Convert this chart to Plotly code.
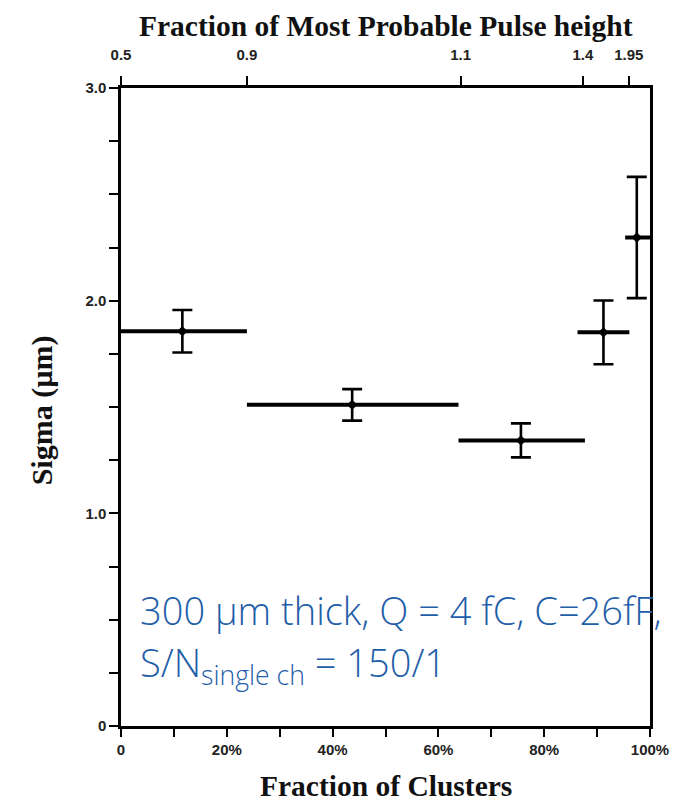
import plotly.graph_objects as go

# ---- data ----
cluster_fraction = [11.6, 43.7, 75.6, 91.2, 97.5]          # % of clusters (marker position)
bin_low = [0.0, 23.8, 63.8, 86.3, 95.3]                     # horizontal bar start (%)
bin_high = [23.8, 63.8, 87.7, 96.1, 100.0]                  # horizontal bar end (%)
sigma_um = [1.856, 1.510, 1.343, 1.851, 2.297]              # Sigma (µm)
sigma_err = [0.10, 0.074, 0.08, 0.15, 0.285]                # ± error (µm)

bottom_tickvals = [0, 20, 40, 60, 80, 100]
bottom_ticktext = ["0", "20%", "40%", "60%", "80%", "100%"]
top_tickvals = [0, 23.8, 64.2, 87.3, 96.0]
top_ticktext = ["0.5", "0.9", "1.1", "1.4", "1.95"]
y_tickvals = [0, 1.0, 2.0, 3.0]
y_ticktext = ["0", "1.0", "2.0", "3.0"]

err_plus_x = [h - c for h, c in zip(bin_high, cluster_fraction)]
err_minus_x = [c - l for c, l in zip(cluster_fraction, bin_low)]

serif = "Liberation Serif"
sans = "Liberation Sans"
title_font = dict(family=serif, size=29.5, color="#111", weight="bold")
tick_font = dict(family=sans, size=15, color="#222", weight="bold")
blue_font = dict(family="Open Sans", size=38, color="#1f5ea8", weight=300)

fig = go.Figure()
fig.add_trace(go.Scatter(
    x=cluster_fraction, y=sigma_um, mode="markers",
    marker=dict(symbol="diamond", size=8, color="black"),
    error_x=dict(type="data", symmetric=False, array=err_plus_x, arrayminus=err_minus_x,
                 width=0, thickness=4, color="black"),
    error_y=dict(type="data", array=sigma_err, width=10, thickness=2.6, color="black"),
    showlegend=False, cliponaxis=False,
))
# invisible trace to activate the top axis
fig.add_trace(go.Scatter(x=[0, 100], y=[None, None], xaxis="x2", yaxis="y",
                         mode="markers", showlegend=False, hoverinfo="skip"))

# page body has an 8px default margin, so the figure is 8px smaller than the window
fig.update_layout(
    width=681, height=796,
    margin=dict(l=113, r=39, t=80, b=78),
    paper_bgcolor="white", plot_bgcolor="white",
    xaxis=dict(
        range=[0, 100], tickvals=bottom_tickvals, ticktext=bottom_ticktext,
        ticks="outside", ticklen=8, tickwidth=2, tickcolor="black",
        minor=dict(dtick=10, tick0=0, ticks="outside", ticklen=8, tickwidth=2, tickcolor="black"),
        showline=True, linecolor="black", linewidth=2.5, mirror=False,
        showgrid=False, zeroline=False, automargin=False,
        tickfont=tick_font,
    ),
    xaxis2=dict(
        range=[0, 100], overlaying="x", side="top", anchor="y",
        tickvals=top_tickvals, ticktext=top_ticktext,
        ticks="outside", ticklen=9, tickwidth=2, tickcolor="black",
        ticklabelstandoff=10,
        showline=True, linecolor="black", linewidth=2.5,
        showgrid=False, zeroline=False, automargin=False,
        tickfont=tick_font,
    ),
    yaxis=dict(
        range=[0, 3.0], tickvals=y_tickvals, ticktext=y_ticktext,
        ticks="outside", ticklen=9, tickwidth=2, tickcolor="black",
        minor=dict(dtick=0.25, tick0=0, ticks="outside", ticklen=9, tickwidth=2, tickcolor="black"),
        showline=True, linecolor="black", linewidth=2.5, mirror=True,
        showgrid=False, zeroline=False, automargin=False,
        tickfont=tick_font,
    ),
    annotations=[
        dict(x=0.5, y=1.0975, xref="paper", yref="paper", xanchor="center", yanchor="middle",
             text="Fraction of Most Probable Pulse height", showarrow=False, font=title_font),
        dict(x=0.5, y=-0.094, xref="paper", yref="paper", xanchor="center", yanchor="middle",
             text="Fraction of Clusters", showarrow=False, font=title_font),
        dict(x=-0.149, y=0.495, xref="paper", yref="paper", xanchor="center", yanchor="middle",
             text="Sigma (µm)", textangle=-90, showarrow=False,
             font=dict(family=serif, size=30, color="#111", weight="bold")),
        dict(x=3.2, y=0.545, xref="x", yref="y", xanchor="left", yanchor="middle",
             text="300 µm thick, Q = 4 fC, C=26fF,", showarrow=False, font=blue_font),
        dict(x=3.2, y=0.29, xref="x", yref="y", xanchor="left", yanchor="middle",
             text="S/N<sub>single ch</sub> = 150/1", showarrow=False, font=blue_font),
    ],
)

fig.write_html("out.html")
